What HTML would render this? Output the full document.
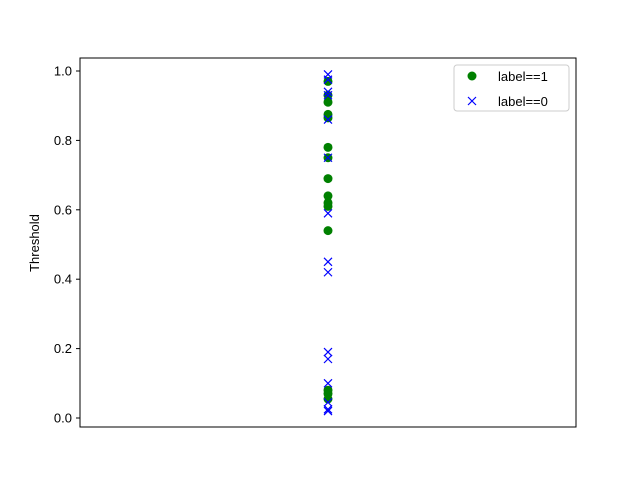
<!DOCTYPE html>
<html><head><meta charset="utf-8"><style>body{margin:0;background:#fff}svg{font-family:"Liberation Sans","DejaVu Sans",sans-serif}</style></head>
<body>
<svg id="chart" width="640" height="480">
<rect x="0" y="0" width="640" height="480" fill="#fff"/>
<g id="marks"></g>
<rect x="80" y="58" width="496" height="369" fill="none" stroke="#000" stroke-width="1"/>
<g id="yticks"></g>
<text x="39" y="243" font-size="13" text-anchor="middle" transform="rotate(-90 39 243)">Threshold</text>
<g>
<rect x="454" y="65" width="115" height="46" rx="3" fill="#fff" stroke="#ccc"/>
<g><circle cx="472" cy="76" r="4.5" fill="green"/><text x="498" y="81" font-size="13">label==1</text></g>
<g><path d="M468 97 l8 8 M476 97 l-8 8" stroke="blue" stroke-width="1.2"/><text x="498" y="106" font-size="13">label==0</text></g>
</g>
</svg>
<script>
const yTicks = [0.0, 0.2, 0.4, 0.6, 0.8, 1.0];
const positives = [0.97, 0.93, 0.91, 0.875, 0.865, 0.78, 0.75, 0.69, 0.64, 0.62, 0.61, 0.54, 0.08, 0.07, 0.055];
const negatives = [0.99, 0.975, 0.94, 0.93, 0.86, 0.75, 0.59, 0.45, 0.42, 0.19, 0.17, 0.10, 0.045, 0.025, 0.02];
const NS = "http://www.w3.org/2000/svg";
const y = v => 418 - v * 347;
const xc = 328;
const yt = document.getElementById('yticks');
yTicks.forEach(t => {
  const l = document.createElementNS(NS, 'line');
  l.setAttribute('x1', 76); l.setAttribute('x2', 80);
  l.setAttribute('y1', y(t)); l.setAttribute('y2', y(t));
  l.setAttribute('stroke', '#000');
  
  
  yt.appendChild(l);
  const tx = document.createElementNS(NS, 'text');
  tx.setAttribute('x', 72); tx.setAttribute('y', y(t) + 4.5);
  tx.setAttribute('font-size', '13'); tx.setAttribute('text-anchor', 'end');
  tx.textContent = t.toFixed(1);
  
  
  yt.appendChild(tx);
});
const m = document.getElementById('marks');
positives.forEach(v => {
  const c = document.createElementNS(NS, 'circle');
  c.setAttribute('cx', xc); c.setAttribute('cy', y(v)); c.setAttribute('r', 4.5);
  c.setAttribute('fill', 'green');
  
  
  m.appendChild(c);
});
negatives.forEach(v => {
  const p = document.createElementNS(NS, 'path');
  const yy = y(v);
  p.setAttribute('d', `M${xc-4} ${yy-4} L${xc+4} ${yy+4} M${xc+4} ${yy-4} L${xc-4} ${yy+4}`);
  p.setAttribute('stroke', 'blue'); p.setAttribute('stroke-width', '1.2');
  
  
  m.appendChild(p);
});
</script>
</body></html>
